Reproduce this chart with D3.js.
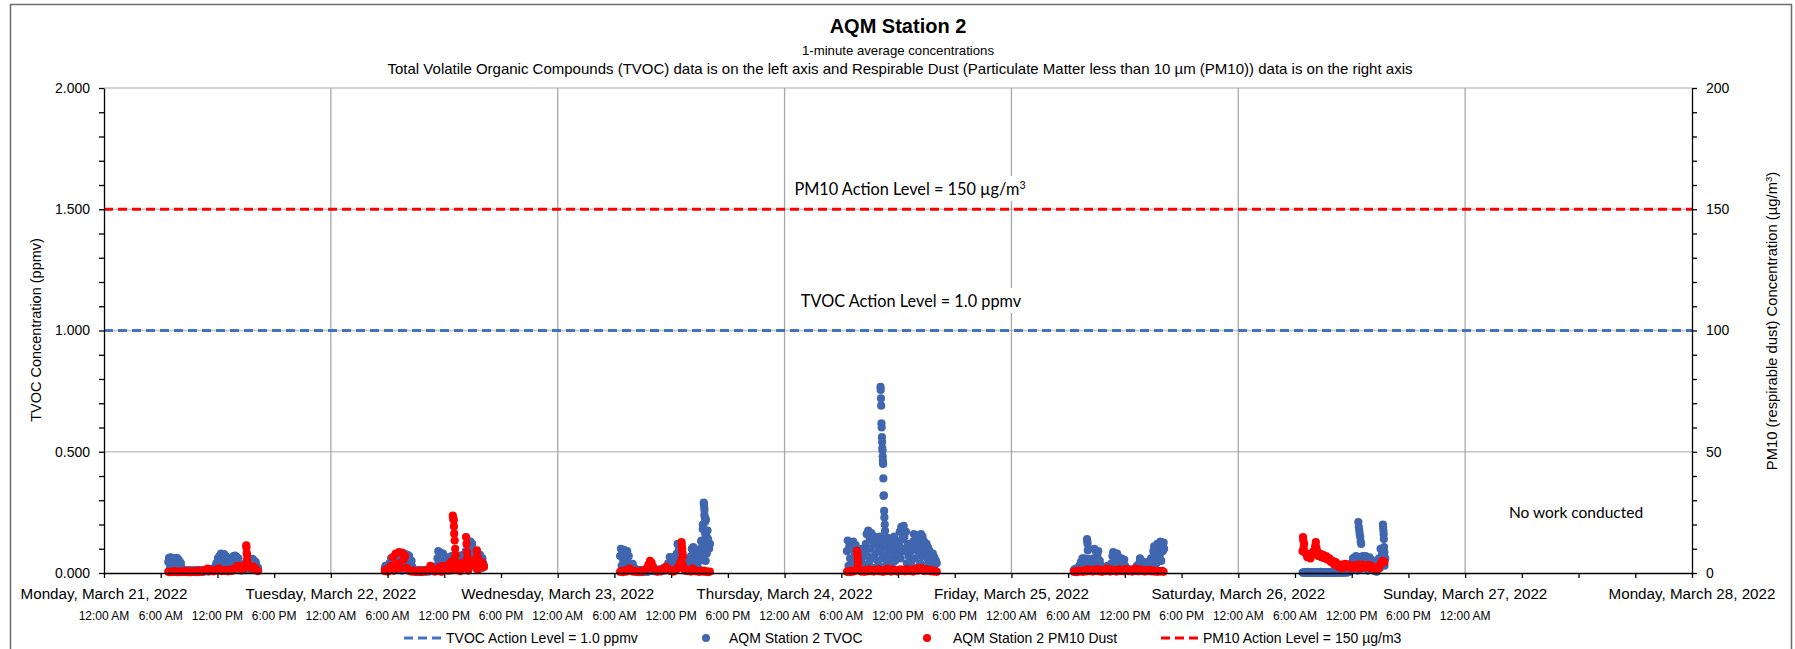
<!DOCTYPE html>
<html><head><meta charset="utf-8">
<script src="https://cdn.jsdelivr.net/npm/d3@7"></script>
<style>body{margin:0;background:#fff}svg{display:block}</style>
</head><body>
<svg id="c" width="1795" height="649"></svg>
<script>
// ---------- tick labels / categories ----------
const dayLabels = ["Monday, March 21, 2022","Tuesday, March 22, 2022","Wednesday, March 23, 2022","Thursday, March 24, 2022","Friday, March 25, 2022","Saturday, March 26, 2022","Sunday, March 27, 2022","Monday, March 28, 2022"];
const hourLabels = ["12:00 AM","6:00 AM","12:00 PM","6:00 PM","12:00 AM","6:00 AM","12:00 PM","6:00 PM","12:00 AM","6:00 AM","12:00 PM","6:00 PM","12:00 AM","6:00 AM","12:00 PM","6:00 PM","12:00 AM","6:00 AM","12:00 PM","6:00 PM","12:00 AM","6:00 AM","12:00 PM","6:00 PM","12:00 AM"];
const leftTicks = [0,0.5,1.0,1.5,2.0];
const rightTicks = [0,50,100,150,200];
const tvocActionLevel = 1.0;   // ppmv
const pm10ActionLevel = 150;   // ug/m3

// ---------- data ----------
// TVOC readings every 5 minutes, PM10 readings every 10 minutes, from each day's start hour (Mon..Sat)
const tvocStepMin = 5, pm10StepMin = 10;
const dayStartHour = [6.8, 5.7, 6.6, 6.6, 6.6, 6.8];

const tvocMon = [0.045,0.062,0.02,0.065,0.035,0.05, 0.01,0.06,0.04,0.055,0.025,0.062, 0.03,0.055,0.012,0.045,0.04,0.02,
 0.015,0.01,0.012,0.006,0.01,0.008, 0.01,0.006,0.012,0.004,0.01,0.008, 0.009,0.011,0.005,0.01,0.007,0.012,
 0.008,0.01,0.004,0.012,0.009,0.006, 0.01,0.007,0.012,0.005,0.011,0.008, 0.012,0.009,0.014,0.006,0.01,0.013,
 0.01,0.015,0.008,0.018,0.012,0.02, 0.025,0.04,0.015,0.06,0.03,0.07, 0.045,0.08,0.02,0.065,0.055,0.078,
 0.035,0.07,0.05,0.015,0.06,0.03, 0.02,0.04,0.01,0.055,0.03,0.07, 0.05,0.072,0.025,0.065,0.04,0.06,
 0.03,0.015,0.035,0.01,0.025,0.02, 0.015,0.03,0.04,0.012,0.05,0.035, 0.06,0.025,0.055,0.04,0.015,0.058,
 0.035,0.05,0.02,0.045,0.03,0.015, 0.02];
const tvocTue = [0.02,0.03,0.01,0.025,0.015,0.03, 0.04,0.02,0.06,0.03,0.05,0.01, 0.07,0.035,0.075,0.015,0.055,0.045,
 0.025,0.07,0.05,0.075,0.01,0.06, 0.04,0.08,0.02,0.065,0.05,0.075, 0.03,0.07,0.045,0.015,0.05,0.025,
 0.015,0.01,0.012,0.008,0.01,0.006, 0.01,0.005,0.012,0.007,0.01,0.004, 0.011,0.008,0.01,0.012,0.006,0.01,
 0.009,0.012,0.006,0.01,0.008,0.011, 0.012,0.008,0.014,0.01,0.016,0.02, 0.03,0.06,0.09,0.04,0.085,0.02,
 0.07,0.045,0.08,0.015,0.03,0.025, 0.05,0.02,0.065,0.035,0.06,0.01, 0.045,0.07,0.025,0.06,0.04,0.068,
 0.015,0.055,0.07,0.03,0.05,0.02, 0.072,0.04,0.06,0.025,0.075,0.05, 0.03,0.09,0.055,0.08,0.015,0.065,
 0.13,0.1,0.06,0.12,0.035,0.08, 0.05,0.075,0.02,0.08,0.045,0.065, 0.03,0.075,0.055,0.02,0.06,0.04, 0.03];
const tvocWed = [0.07,0.1,0.03,0.085,0.05,0.095, 0.02,0.08,0.06,0.09,0.04,0.07, 0.04,0.015,0.035,0.025,0.038,0.01,
 0.02,0.012,0.015,0.008,0.01,0.012, 0.01,0.005,0.012,0.006,0.01,0.004, 0.011,0.007,0.01,0.012,0.005,0.01,
 0.006,0.009,0.012,0.01,0.008,0.011, 0.01,0.012,0.007,0.009,0.013,0.006, 0.012,0.01,0.015,0.008,0.011,0.014,
 0.015,0.02,0.01,0.018,0.012,0.025, 0.02,0.04,0.03,0.066,0.015,0.05, 0.062,0.035,0.066,0.02,0.05,0.045,
 0.08,0.12,0.04,0.1,0.06,0.11, 0.03,0.05,0.02,0.04,0.01,0.035, 0.02,0.045,0.06,0.03,0.055,0.015,
 0.07,0.1,0.04,0.107,0.06,0.085, 0.03,0.06,0.09,0.02,0.07,0.05, 0.1,0.13,0.06,0.2,0.12,0.24,
 0.17,0.22,0.08,0.175,0.13,0.1, 0.12];
const tvocThu = [0.09,0.134,0.03,0.11,0.06,0.125, 0.01,0.1,0.13,0.045,0.08,0.115, 0.06,0.09,0.025,0.075,0.04,0.085,
 0.05,0.1,0.015,0.07,0.09,0.035, 0.12,0.16,0.07,0.175,0.04,0.14, 0.1,0.165,0.06,0.13,0.02,0.15,
 0.08,0.12,0.14,0.05,0.1,0.03, 0.15,0.09,0.13,0.06,0.11,0.02, 0.14,0.07,0.12,0.04,0.145,0.095,
 0.06,0.14,0.1,0.025,0.12,0.08, 0.15,0.05,0.11,0.13,0.07,0.09, 0.12,0.17,0.06,0.19,0.14,0.09,
 0.194,0.15,0.1,0.17,0.04,0.12, 0.07,0.105,0.03,0.09,0.05,0.1, 0.13,0.16,0.06,0.11,0.02,0.14,
 0.09,0.155,0.12,0.04,0.16,0.07, 0.15,0.1,0.13,0.03,0.08,0.12, 0.06,0.105,0.02,0.09,0.04,0.08,
 0.05,0.08,0.03,0.065,0.01,0.05, 0.04];
const tvocFri = [0.01,0.015,0.005,0.018,0.008,0.012, 0.015,0.03,0.01,0.045,0.02,0.06, 0.04,0.06,0.025,0.055,0.01,0.05,
 0.058,0.03,0.045,0.015,0.05,0.02, 0.03,0.06,0.1,0.045,0.09,0.02, 0.07,0.09,0.035,0.05,0.02,0.03,
 0.015,0.02,0.01,0.012,0.018,0.008, 0.02,0.03,0.01,0.025,0.015,0.03, 0.04,0.07,0.086,0.025,0.06,0.08,
 0.05,0.08,0.03,0.065,0.015,0.06, 0.06,0.035,0.05,0.02,0.055,0.03, 0.015,0.01,0.012,0.008,0.015,0.01,
 0.012,0.008,0.015,0.01,0.012,0.009, 0.015,0.02,0.03,0.012,0.025,0.04, 0.06,0.03,0.05,0.015,0.045,0.02,
 0.03,0.045,0.015,0.04,0.02,0.035, 0.02,0.045,0.06,0.03,0.05,0.09, 0.11,0.06,0.1,0.04,0.12,0.08,
 0.12,0.07,0.13,0.05,0.11,0.09, 0.1];
const tvocSat = [0.002,0.0,0.004,0.001,0.003,0.0, 0.002,0.005,0.001,0.003,0.0,0.002, 0.004,0.001,0.003,0.002,0.0,0.004,
 0.002,0.001,0.003,0.0,0.002,0.005, 0.001,0.003,0.002,0.0,0.004,0.002, 0.003,0.0,0.002,0.004,0.001,0.003,
 0.002,0.0,0.004,0.002,0.001,0.003, 0.0,0.002,0.005,0.001,0.003,0.002, 0.004,0.0,0.002,0.003,0.001,0.004,
 0.002,0.006,0.001,0.003,0.008,0.004, 0.01,0.02,0.04,0.015,0.06,0.03, 0.065,0.02,0.07,0.045,0.01,0.055,
 0.03,0.06,0.015,0.068,0.04,0.07, 0.05,0.02,0.07,0.035,0.065,0.01, 0.04,0.065,0.025,0.055,0.015,0.045,
 0.02,0.01,0.008,0.012,0.005,0.015, 0.03,0.06,0.02,0.1,0.045,0.08, 0.05,0.09,0.03,0.06];

const pm10Mon = [0.5,0.3,0.6,0.4,0.8,0.5,0.3,0.7,0.4,0.6,0.5,0.9,0.4,0.6,0.3,0.8,0.5,0.7,0.4,1.0,
 0.6,0.5,0.8,1.2,0.9,1.8,1.2,0.8,1.0,0.7,1.1,1.5,1.8,1.0,0.8,1.2,0.9,1.3,0.7,1.0,
 1.4,1.0,1.6,2.2,3.0,2.8,2.0,1.5,2.0,3.5,4.5,3.0,2.5,1.8,2.6,2.0,1.2,0.8];
const pm10Tue = [0.8,1.5,0.6,1.0,3.0,6.5,1.0,8.0,4.0,8.6,2.0,8.4,5.5,7.0,2.0,1.2,0.8,0.6,1.0,0.5,
 0.8,0.6,1.0,0.5,0.7,0.9,0.6,1.2,1.5,3.0,1.5,0.8,0.6,1.0,1.8,2.5,0.5,2.8,2.0,3.0,
 1.0,3.5,4.5,5.0,1.5,4.5,3.0,4.0,0.8,3.8,3.0,4.5,5.5,1.0,3.5,4.8,3.2,4.5,6.0,1.2,5.0,3.5,4.2,2.5];
const pm10Wed = [0.5,0.8,0.4,1.0,0.6,1.2,1.8,1.0,0.6,0.8,0.5,0.7,0.4,0.9,0.6,0.8,1.2,2.0,3.5,5.0,
 4.2,2.5,1.2,0.8,0.6,1.0,0.7,1.2,1.8,2.5,2.0,1.2,0.8,1.0,0.6,1.2,1.5,2.5,4.0,5.5,
 3.0,1.5,1.0,0.8,1.2,0.6,1.8,1.0,0.7,0.9,0.5,0.8,0.6,1.0,0.5,0.7,0.4,0.6];
const pm10Thu = [0.5,0.8,0.4,1.0,0.6,0.9,1.5,3.0,1.2,0.6,0.9,0.5,1.2,0.7,1.5,0.8,1.0,0.6,1.3,0.9,
 1.6,0.7,1.0,0.5,1.2,0.8,1.8,1.0,0.6,1.4,0.9,1.2,0.6,1.0,1.5,0.8,1.2,0.7,1.6,1.0,
 0.8,1.3,0.6,1.1,1.9,1.0,1.5,2.0,1.2,0.8,1.6,1.0,1.3,0.7,1.1,0.6,0.9,0.5];
const pm10Fri = [0.5,0.8,0.4,1.0,0.6,0.9,0.5,1.2,0.7,1.5,0.8,1.0,0.6,1.3,0.9,1.6,0.7,1.0,0.5,1.2,
 0.8,1.8,1.0,0.6,1.4,0.9,1.2,0.6,1.0,1.5,0.8,1.2,0.7,1.6,1.0,0.8,1.3,0.6,1.1,1.8,
 1.0,0.7,1.5,0.9,1.2,0.6,1.0,0.8,1.3,0.7,1.1,0.6,0.9,0.5,0.8,0.6,0.9,0.5];
const pm10Sat = [9.0,12.0,8.0,6.5,7.9,6.0,7.5,9.0,11.0,9.5,7.0,8.0,6.5,7.5,6.0,7.0,5.5,6.0,4.5,5.0,
 3.5,4.5,3.0,2.5,3.5,2.0,3.0,3.8,2.5,3.5,2.2,3.0,2.0,3.2,2.5,3.5,2.0,2.8,3.5,2.2,
 3.0,2.5,3.4,2.0,2.8,2.2,1.5,2.0,1.8,3.0,4.5,5.0,4.5];

// short bursts of 1-minute readings: [day index, hour of day, value]
const tvocBursts = [[1,14.75,0.13],[1,14.8,0.12],[1,14.85,0.105],
 [2,15.45,0.29],[2,15.47,0.285],[2,15.5,0.272],[2,15.52,0.26],[2,15.55,0.231],[2,15.58,0.21],[2,15.62,0.16],[2,15.7,0.175],[2,15.75,0.15],[2,15.2,0.134],[2,15.9,0.14],[2,15.35,0.18],[2,15.4,0.09],[2,15.65,0.05],
 [3,10.15,0.768],[3,10.17,0.755],[3,10.2,0.72],[3,10.22,0.69],[3,10.25,0.617],[3,10.27,0.6],[3,10.3,0.56],[3,10.32,0.54],[3,10.34,0.515],[3,10.36,0.505],[3,10.38,0.48],[3,10.4,0.463],[3,10.42,0.45],[3,10.45,0.39],[3,10.48,0.318],[3,10.5,0.32],[3,10.53,0.256],[3,10.56,0.229],[3,10.6,0.2],[3,10.63,0.174],
 [4,8.0,0.14],[4,8.03,0.13],[4,8.05,0.12],[4,8.08,0.093],[4,16.1,0.125],[4,16.15,0.1],
 [5,12.7,0.21],[5,12.75,0.19],[5,12.8,0.175],[5,12.85,0.16],[5,12.9,0.148],[5,12.95,0.13],[5,13.0,0.12],[5,15.3,0.2],[5,15.32,0.19],[5,15.35,0.175],[5,15.38,0.16],[5,15.4,0.14],[5,15.42,0.107],[5,15.45,0.085]];
const pm10Bursts = [[0,15.05,11.4],[0,15.07,10.6],[0,15.1,8.2],[0,15.12,7.6],[0,15.14,5.5],
 [1,12.9,23.7],[1,12.95,22.4],[1,13.0,21.8],[1,13.02,19.2],[1,13.05,16.2],[1,13.1,13.4],[1,13.15,10.0],[1,13.2,7.5],[1,14.3,14.8],[1,14.35,12.0],[1,14.4,8.6],[1,14.45,6.5],[1,15.45,9.3],[1,15.5,7.0],
 [2,13.1,12.7],[2,13.13,11.3],[2,13.16,10.0],[2,13.2,8.5],[2,13.23,7.0],
 [3,7.65,9.1],[3,7.68,8.5],[3,7.7,7.7],[3,7.72,6.5],[3,7.75,5.0],[3,7.78,4.0],
 [5,6.85,14.8],[5,6.88,13.4],[5,6.92,10.7],[5,6.95,9.0],[5,8.2,12.7],[5,8.25,10.7],[5,8.3,9.0]];

const tvocDays = [tvocMon,tvocTue,tvocWed,tvocThu,tvocFri,tvocSat];
const pm10Days = [pm10Mon,pm10Tue,pm10Wed,pm10Thu,pm10Fri,pm10Sat];

// ---------- layout ----------
const FONT = "'Liberation Sans', Arial, sans-serif";
const CAL = "Lato, 'Open Sans', sans-serif";
const X0=104, X1=1692, Y0=573, Y1=88;
const BLUE="#3f66ae", BLUE_L="#4472c4", RED="#ff0000";
const R = 4.1;
const svg = d3.select("#c");
const t0 = Date.UTC(2022,2,21);
const tm = (d,h) => new Date(t0 + (d*24 + h)*3600e3);
const x = d3.scaleUtc().domain([tm(0,0), tm(7,0)]).range([X0,X1]);
const yL = d3.scaleLinear().domain([0,2]).range([Y0,Y1]);
const yR = d3.scaleLinear().domain([0,200]).range([Y0,Y1]);

function buildSeries(days, step, bursts){
  const pts=[];
  days.forEach((arr,d)=>arr.forEach((v,j)=>pts.push({t:tm(d, dayStartHour[d] + j*step/60), v})));
  bursts.forEach(([d,h,v])=>pts.push({t:tm(d,h),v}));
  return pts;
}
const tvocPts = buildSeries(tvocDays, tvocStepMin, tvocBursts);
const pm10Pts = buildSeries(pm10Days, pm10StepMin, pm10Bursts);

// outer border
svg.append("rect").attr("x",10.5).attr("y",4.5).attr("width",1781).attr("height",700)
  .attr("fill","none").attr("stroke","#6b6b6b").attr("stroke-width",1.5);

// titles
svg.append("text").attr("x",898).attr("y",33).attr("text-anchor","middle")
  .attr("font-family",FONT).attr("font-weight","bold").attr("font-size",20).text("AQM Station 2");
svg.append("text").attr("x",898).attr("y",54.5).attr("text-anchor","middle")
  .attr("font-family",FONT).attr("font-size",13.2).text("1-minute average concentrations");
svg.append("text").attr("x",900).attr("y",74).attr("text-anchor","middle")
  .attr("font-family",FONT).attr("font-size",15)
  .text("Total Volatile Organic Compounds (TVOC) data is on the left axis and Respirable Dust (Particulate Matter less than 10 µm (PM10)) data is on the right axis");

// gridlines
const g = svg.append("g");
g.selectAll(".hg").data(leftTicks.filter(d=>d>0)).join("line")
  .attr("x1",X0).attr("x2",X1).attr("y1",d=>yL(d)).attr("y2",d=>yL(d))
  .attr("stroke","#c4c4c4").attr("stroke-width",1.3);
g.selectAll(".vg").data(d3.range(1,7)).join("line")
  .attr("x1",d=>x(tm(d,0))).attr("x2",d=>x(tm(d,0))).attr("y1",Y1).attr("y2",Y0)
  .attr("stroke","#a8a8a8").attr("stroke-width",1.3);

// action level lines
svg.append("line").attr("x1",X0).attr("x2",X1).attr("y1",yL(tvocActionLevel)).attr("y2",yL(tvocActionLevel))
  .attr("stroke",BLUE_L).attr("stroke-width",3).attr("stroke-dasharray","9,5");
svg.append("line").attr("x1",X0).attr("x2",X1).attr("y1",yR(pm10ActionLevel)).attr("y2",yR(pm10ActionLevel))
  .attr("stroke",RED).attr("stroke-width",3).attr("stroke-dasharray","9,5");

// annotation labels with white boxes
function label(xc, yb, parts, size){
  const grp = svg.append("g");
  const tx = grp.append("text").attr("x",xc).attr("y",yb).attr("text-anchor","middle")
    .attr("font-family",CAL).attr("font-size",size).attr("fill","#000");
  parts.forEach(p=>{
    const s = tx.append("tspan").text(p.t);
    if(p.sup) s.attr("baseline-shift","super").attr("font-size",size*0.65);
  });
  const bb = tx.node().getBBox();
  grp.insert("rect","text").attr("x",bb.x-4).attr("y",bb.y-3).attr("width",bb.width+8).attr("height",bb.height+6).attr("fill","#fff");
}
label(910, 195, [{t:"PM10 Action Level = 150 µg/m"},{t:"3",sup:true}], 16.3);
label(911, 307, [{t:"TVOC Action Level = 1.0 ppmv"}], 16.3);
svg.append("text").attr("x",1576).attr("y",518).attr("text-anchor","middle")
  .attr("font-family",CAL).attr("font-size",15.5).text("No work conducted");

// scatter series
svg.append("g").selectAll("circle").data(tvocPts).join("circle")
  .attr("cx",d=>x(d.t)).attr("cy",d=>yL(d.v)).attr("r",R).attr("fill",BLUE);
svg.append("g").selectAll("circle").data(pm10Pts).join("circle")
  .attr("cx",d=>x(d.t)).attr("cy",d=>yR(d.v)).attr("r",R).attr("fill",RED);

// axes
const fmtL = d3.format(".3f");
const axL = d3.axisLeft(yL).tickValues(d3.range(0,21).map(i=>i/10)).tickSize(5).tickSizeOuter(0)
  .tickFormat(d=>leftTicks.some(v=>Math.abs(v-d)<1e-9)?fmtL(d):"");
const axR = d3.axisRight(yR).tickValues(d3.range(0,21).map(i=>i*10)).tickSize(5).tickSizeOuter(0)
  .tickFormat(d=>rightTicks.includes(d)?String(d):"");
const axB = d3.axisBottom(x).ticks(d3.utcHour.every(6)).tickSize(5).tickSizeOuter(0).tickFormat("");
function style(sel){ sel.selectAll("path,line").attr("stroke","#000").attr("stroke-width",1.3);
  sel.selectAll("text").attr("font-family",FONT).attr("font-size",14).attr("fill","#000"); }
svg.append("g").attr("transform",`translate(${X0},0)`).call(axL).call(style).selectAll("text").attr("dx",-6);
svg.append("g").attr("transform",`translate(${X1},0)`).call(axR).call(style).selectAll("text").attr("dx",6);
svg.append("g").attr("transform",`translate(0,${Y0})`).call(axB).call(style);

// day labels & hour labels
svg.append("g").selectAll("text").data(dayLabels).join("text")
  .attr("x",(d,i)=>x(tm(i,0))).attr("y",599).attr("text-anchor","middle")
  .attr("font-family",FONT).attr("font-size",15.2).text(d=>d);
svg.append("g").selectAll("text").data(hourLabels).join("text")
  .attr("x",(d,i)=>x(tm(0,i*6))).attr("y",619.5).attr("text-anchor","middle")
  .attr("font-family",FONT).attr("font-size",12).text(d=>d);

// axis titles
svg.append("text").attr("transform",`translate(41,330) rotate(-90)`).attr("text-anchor","middle")
  .attr("font-family",FONT).attr("font-size",14.5).text("TVOC Concentration (ppmv)");
const rt = svg.append("text").attr("transform",`translate(1777,321) rotate(-90)`).attr("text-anchor","middle")
  .attr("font-family",FONT).attr("font-size",14.8);
rt.append("tspan").text("PM10 (respirable dust) Concentration (µg/m");
rt.append("tspan").attr("baseline-shift","super").attr("font-size",9.5).text("3");
rt.append("tspan").text(")");

// legend
const LY = 638;
const lg = svg.append("g").attr("font-family",FONT).attr("font-size",14);
lg.append("line").attr("x1",404).attr("x2",444).attr("y1",LY).attr("y2",LY).attr("stroke",BLUE_L).attr("stroke-width",3).attr("stroke-dasharray","9,5");
lg.append("text").attr("x",446).attr("y",LY+5).text("TVOC Action Level = 1.0 ppmv");
lg.append("circle").attr("cx",706).attr("cy",LY).attr("r",4).attr("fill",BLUE);
lg.append("text").attr("x",729).attr("y",LY+5).text("AQM Station 2 TVOC");
lg.append("circle").attr("cx",927).attr("cy",LY).attr("r",4).attr("fill",RED);
lg.append("text").attr("x",953).attr("y",LY+5).text("AQM Station 2 PM10 Dust");
lg.append("line").attr("x1",1161).attr("x2",1201).attr("y1",LY).attr("y2",LY).attr("stroke",RED).attr("stroke-width",3).attr("stroke-dasharray","9,5");
lg.append("text").attr("x",1203).attr("y",LY+5).text("PM10 Action Level = 150 µg/m3");
</script>
</body></html>
